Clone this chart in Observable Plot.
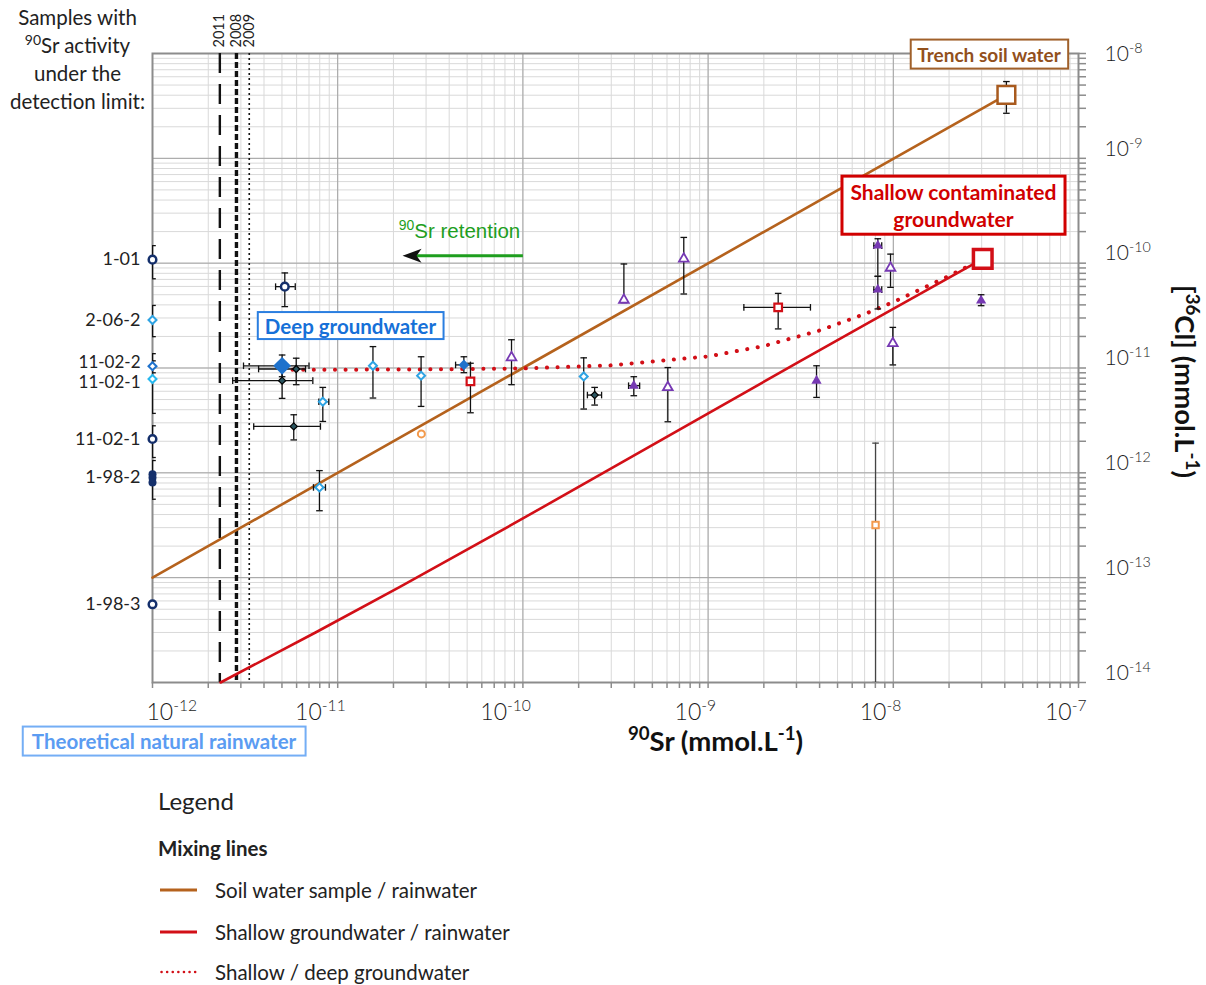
<!DOCTYPE html>
<html>
<head>
<meta charset="utf-8">
<script src="https://cdn.jsdelivr.net/npm/d3@7"></script>
<script src="https://cdn.jsdelivr.net/npm/@observablehq/plot@0.6"></script>
<style>
  body { margin: 0; background: #fff; font-family: Lato, "Noto Sans", sans-serif; color: #222; }
  #chart svg { display: block; }
  #legend { position: relative; width: 1206px; height: 205px; }
  #legend .item { position: absolute; left: 158px; transform: translateY(-50%); white-space: nowrap; }
  #legend .title { font-size: 24px; }
  #legend .group { font-size: 20.5px; font-weight: 700; }
  #legend .row { font-size: 20.5px; display: flex; align-items: center; }
  #legend .row svg { margin-right: 18px; margin-left: 2px; }
</style>
</head>
<body>
<div id="chart"></div>
<div id="legend">
  <div class="item title" style="top:20px">Legend</div>
  <div class="item group" style="top:68px">Mixing lines</div>
  <div class="item row" style="top:110px">
    <svg width="37" height="6"><line x1="0" x2="37" y1="3" y2="3" stroke="#b5621d" stroke-width="3"/></svg>Soil water sample / rainwater</div>
  <div class="item row" style="top:152px">
    <svg width="37" height="6"><line x1="0" x2="37" y1="3" y2="3" stroke="#d20f17" stroke-width="3"/></svg>Shallow groundwater / rainwater</div>
  <div class="item row" style="top:192px">
    <svg width="37" height="6"><line x1="1.5" x2="36" y1="3" y2="3" stroke="#d20f17" stroke-width="2.5" stroke-dasharray="0.1 5.5" stroke-linecap="round"/></svg>Shallow / deep groundwater</div>
</div>
<script>
// ---- Measured concentrations (mmol/L): 90Sr on x, 36Cl on y, with uncertainty ranges ----
const navyOpen = [
  {sr: 5.18e-12, cl: 5.97e-11, srLo: 4.62e-12, srHi: 5.90e-12, clLo: 3.85e-11, clHi: 8.07e-11}
];
const lightBlueOpen = [
  {sr: 8.31e-12, cl: 4.77e-12, srLo: 7.91e-12, srHi: 8.95e-12, clLo: 3.09e-12, clHi: 6.53e-12},
  {sr: 1.55e-11, cl: 1.05e-11, clLo: 5.17e-12, clHi: 1.60e-11},
  {sr: 7.97e-12, cl: 7.26e-13, srLo: 7.40e-12, srHi: 8.59e-12, clLo: 4.35e-13, clHi: 1.05e-12},
  {sr: 2.82e-11, cl: 8.45e-12, clLo: 4.30e-12, clHi: 1.28e-11},
  {sr: 2.13e-10, cl: 8.31e-12, clLo: 4.06e-12, clHi: 1.25e-11}
];
const deepGroundwater = [
  {sr: 5.01e-12, cl: 1.05e-11, srLo: 3.10e-12, srHi: 7.0e-12, clLo: 8.26e-12, clHi: 1.33e-11}
];
const blueFilled = [
  {sr: 4.80e-11, cl: 1.07e-11, srLo: 4.33e-11, srHi: 5.21e-11, clLo: 9.02e-12, clHi: 1.28e-11}
];
const darkPoints = [
  {sr: 5.97e-12, cl: 9.78e-12, srLo: 3.74e-12, srHi: 6.70e-12, clLo: 6.93e-12, clHi: 1.24e-11},
  {sr: 5.01e-12, cl: 7.57e-12, srLo: 2.71e-12, srHi: 7.34e-12, clLo: 5.13e-12, clHi: 1.05e-11},
  {sr: 5.79e-12, cl: 2.77e-12, srLo: 3.52e-12, srHi: 8.07e-12, clLo: 2.06e-12, clHi: 3.58e-12},
  {sr: 2.44e-10, cl: 5.52e-12, srLo: 2.23e-10, srHi: 2.66e-10, clLo: 4.43e-12, clHi: 6.53e-12}
];
const redOpen = [
  {sr: 5.21e-11, cl: 7.45e-12, clLo: 3.74e-12, clHi: 1.11e-11},
  {sr: 2.39e-9, cl: 3.79e-11, srLo: 1.56e-9, srHi: 3.57e-9, clLo: 2.36e-11, clHi: 5.15e-11}
];
const purpleOpen = [
  {sr: 8.68e-11, cl: 1.26e-11, clLo: 6.93e-12, clHi: 1.86e-11},
  {sr: 6.06e-10, cl: 6.53e-12, clLo: 3.07e-12, clHi: 1.01e-11},
  {sr: 3.51e-10, cl: 4.46e-11, clLo: 4.2e-11, clHi: 9.82e-11},
  {sr: 7.39e-10, cl: 1.10e-10, clLo: 5.08e-11, clHi: 1.76e-10},
  {sr: 9.66e-9, cl: 9.0e-11, clLo: 5.88e-11, clHi: 1.22e-10},
  {sr: 9.94e-9, cl: 1.72e-11, clLo: 1.07e-11, clHi: 2.44e-11}
];
const purpleFilled = [
  {sr: 3.97e-10, cl: 6.78e-12, srLo: 3.72e-10, srHi: 4.27e-10, clLo: 5.44e-12, clHi: 8.26e-12},
  {sr: 8.25e-9, cl: 1.47e-10, srLo: 7.85e-9, srHi: 8.66e-9, clLo: 7.5e-11, clHi: 1.71e-10},
  {sr: 8.25e-9, cl: 5.59e-11, srLo: 7.85e-9, srHi: 8.66e-9, clLo: 3.66e-11, clHi: 7.48e-11},
  {sr: 3.85e-9, cl: 7.57e-12, clLo: 5.24e-12, clHi: 1.05e-11},
  {sr: 2.98e-8, cl: 4.39e-11, clLo: 3.93e-11, clHi: 5.0e-11}
];
const orangeCircle = [{sr: 2.83e-11, cl: 2.35e-12}];
const orangeSquare = [{sr: 8.02e-9, cl: 3.18e-13, clLo: 1e-14, clHi: 1.92e-12}];
const shallowContaminated = [{sr: 3.04e-8, cl: 1.10e-10}];
const trenchSoilWater = [{sr: 4.08e-8, cl: 4.03e-9, clLo: 2.69e-9, clHi: 5.40e-9}];

// Samples whose 90Sr activity is below the detection limit (drawn on the left edge)
const belowDetection = [
  {label: "1-01",    group: "navyOpen",   sr: 1e-12, cl: 1.08e-10, clLo: 7.1e-11,  clHi: 1.47e-10},
  {label: "2-06-2",  group: "lightBlue",  sr: 1e-12, cl: 2.87e-11, clLo: 1.99e-11, clHi: 3.95e-11},
  {label: "11-02-2", group: "blue",       sr: 1e-12, cl: 1.04e-11, clLo: 9.0e-12,  clHi: 1.37e-11},
  {label: "11-02-1", group: "cyan",       sr: 1e-12, cl: 7.85e-12, clLo: 3.69e-12, clHi: 1.17e-11},
  {label: "11-02-1", group: "navyOpen",   sr: 1e-12, cl: 2.1e-12,  clLo: 1.40e-12, clHi: 2.81e-12},
  {label: "",        group: "navyFilled", sr: 1e-12, cl: 9.7e-13},
  {label: "1-98-2",  group: "navyFilled", sr: 1e-12, cl: 8.98e-13, clLo: 5.6e-13,  clHi: 1.31e-12},
  {label: "",        group: "navyFilled", sr: 1e-12, cl: 8.1e-13},
  {label: "1-98-3",  group: "navyOpen",   sr: 1e-12, cl: 5.57e-14}
];

// Mixing lines
const soilRainLine = [
  {sr: 1e-12, cl: 1e-13}, {sr: 1e-10, cl: 1e-11}, {sr: 4.08e-8, cl: 4.03e-9}
];
const shallowRainLine = [
  {sr: 2.33e-12, cl: 1e-14}, {sr: 7.59e-12, cl: 3.0e-14}, {sr: 2.18e-11, cl: 8.2e-14},
  {sr: 1.0e-10, cl: 3.67e-13}, {sr: 3.16e-9, cl: 1.17e-11}, {sr: 9.66e-9, cl: 3.54e-11},
  {sr: 3.04e-8, cl: 1.10e-10}
];
const shallowDeepLine = [
  {sr: 5.0e-12, cl: 9.6e-12}, {sr: 1e-11, cl: 9.63e-12}, {sr: 3e-11, cl: 9.7e-12},
  {sr: 1e-10, cl: 9.9e-12}, {sr: 3e-10, cl: 1.06e-11}, {sr: 1e-9, cl: 1.29e-11},
  {sr: 2e-9, cl: 1.62e-11}, {sr: 4e-9, cl: 2.28e-11}, {sr: 7e-9, cl: 3.27e-11},
  {sr: 1e-8, cl: 4.26e-11}, {sr: 1.5e-8, cl: 5.95e-11}, {sr: 2e-8, cl: 7.56e-11},
  {sr: 3.04e-8, cl: 1.10e-10}
];

// 90Sr detection limits by campaign year
const detectionLimits = [
  {year: "2011", sr: 2.31e-12},
  {year: "2008", sr: 2.84e-12},
  {year: "2009", sr: 3.33e-12}
];
const retentionArrow = [{srStart: 1.0e-10, srEnd: 2.6e-11, srTip: 2.24e-11, cl: 1.18e-10}];

// Axis ticks
const xTickValues = [1e-12, 1e-11, 1e-10, 1e-9, 1e-8, 1e-7];
const xTickLabels = ["10^{-12}", "10^{-11}", "10^{-10}", "10^{-9}", "10^{-8}", "10^{-7}"];
const yTickValues = [1e-14, 1e-13, 1e-12, 1e-11, 1e-10, 1e-9, 1e-8];
const yTickLabels = ["10^{-14}", "10^{-13}", "10^{-12}", "10^{-11}", "10^{-10}", "10^{-9}", "10^{-8}"];

// ---- styling ----
const NAVY = "#142f6b", LIGHT_BLUE = "#2ea3e3", CYAN = "#27b8ef", BLUE = "#1f72cc",
      PURPLE = "#7639b3", RED = "#d20f17", ORANGE = "#f39a4c", BROWN = "#b5621d",
      GREEN = "#1e9e1e", GRID_MINOR = "#d9d9d9", GRID_MAJOR = "#a3a3a3", AXIS = "#8c8c8c";

const xDomain = [1e-12, 1e-7], yDomain = [1e-14, 1e-8];
const xMinor = d3.scaleLog().domain(xDomain).ticks();
const yMinor = d3.scaleLog().domain(yDomain).ticks();
const xLabel = new Map(xTickValues.map((v, i) => [v, xTickLabels[i]]));
const yLabel = new Map(yTickValues.map((v, i) => [v, yTickLabels[i]]));

// custom symbols: error-bar caps and an arrow head
const hCap = {draw(ctx, size) { const r = Math.sqrt(size / Math.PI); ctx.moveTo(-r, 0); ctx.lineTo(r, 0); }};
const vCap = {draw(ctx, size) { const r = Math.sqrt(size / Math.PI); ctx.moveTo(0, -r); ctx.lineTo(0, r); }};
const arrowHead = {draw(ctx) { ctx.moveTo(0, 0); ctx.lineTo(19, -7); ctx.lineTo(14, 0); ctx.lineTo(19, 7); ctx.closePath(); }};

function errorBars(data, extra = {}) {
  const s = {stroke: "#111", strokeWidth: 1.3, ...extra};
  const ys = data.filter(d => d.clLo != null);
  const xs = data.filter(d => d.srLo != null);
  return [
    Plot.ruleX(ys, {x: "sr", y1: "clLo", y2: "clHi", ...s}),
    Plot.dot(ys, {x: "sr", y: "clLo", symbol: hCap, r: 3.3, fill: "none", ...s}),
    Plot.dot(ys, {x: "sr", y: "clHi", symbol: hCap, r: 3.3, fill: "none", ...s}),
    Plot.ruleY(xs, {y: "cl", x1: "srLo", x2: "srHi", ...s}),
    Plot.dot(xs, {x: "srLo", y: "cl", symbol: vCap, r: 3.3, fill: "none", ...s}),
    Plot.dot(xs, {x: "srHi", y: "cl", symbol: vCap, r: 3.3, fill: "none", ...s})
  ];
}

// free-standing annotation positioned from the frame's top-left corner
function note(text, dx, dy, opts = {}) {
  return Plot.text([text], {text: d => d, frameAnchor: "top-left", textAnchor: "middle",
    lineAnchor: "middle", dx, dy, ...opts});
}

const byGroup = g => belowDetection.filter(d => d.group === g);
const tickText = {fontSize: 23, fontWeight: 300, fill: "#1a1a1a", label: null};
const sampleLabel = {y: "cl", text: "label", frameAnchor: "left", textAnchor: "end",
  lineAnchor: "middle", dx: -12, fontSize: 18, fill: "#222"};

const plot = Plot.plot({
  width: 1206, height: 780,
  marginTop: 53, marginRight: 128, marginBottom: 98, marginLeft: 152,
  style: {fontFamily: "Lato, 'Noto Sans', sans-serif", color: "#222", background: "white", overflow: "visible"},
  x: {type: "log", domain: xDomain},
  y: {type: "log", domain: yDomain},
  marks: [
    // grid
    Plot.gridY(yMinor, {stroke: GRID_MINOR, strokeOpacity: 1}),
    Plot.gridX(xMinor, {stroke: GRID_MINOR, strokeOpacity: 1}),
    Plot.gridY(yTickValues, {stroke: GRID_MAJOR, strokeOpacity: 1}),
    Plot.gridX(xTickValues, {stroke: GRID_MAJOR, strokeOpacity: 1}),
    Plot.frame({stroke: AXIS, strokeWidth: 2}),
    Plot.axisX(xMinor, {anchor: "bottom", tickSize: 6, tickFormat: () => "", stroke: AXIS, strokeWidth: 1.5, label: null}),
    Plot.axisY(yMinor, {anchor: "right", tickSize: 7, tickFormat: () => "", stroke: AXIS, strokeWidth: 1.5, label: null}),

    // detection limits
    Plot.ruleX(detectionLimits.filter(d => d.year === "2011"), {x: "sr", stroke: "#111", strokeWidth: 2.4, strokeDasharray: "20 11"}),
    Plot.ruleX(detectionLimits.filter(d => d.year === "2008"), {x: "sr", stroke: "#111", strokeWidth: 3.4, strokeDasharray: "6 3"}),
    Plot.ruleX(detectionLimits.filter(d => d.year === "2009"), {x: "sr", stroke: "#111", strokeWidth: 1.6, strokeDasharray: "2 3"}),
    Plot.text(detectionLimits, {x: "sr", text: "year", frameAnchor: "top", rotate: -90, textAnchor: "start",
      lineAnchor: "middle", dy: -6, fontSize: 14.5, fill: "#222"}),

    // mixing lines
    Plot.line(soilRainLine, {x: "sr", y: "cl", stroke: BROWN, strokeWidth: 2.6}),
    Plot.line(shallowRainLine, {x: "sr", y: "cl", stroke: RED, strokeWidth: 2.6}),
    Plot.line(shallowDeepLine, {x: "sr", y: "cl", stroke: RED, strokeWidth: 4, strokeDasharray: "0.1 10.5", strokeLinecap: "round"}),

    // retention arrow
    Plot.link(retentionArrow, {x1: "srStart", x2: "srEnd", y1: "cl", y2: "cl", stroke: GREEN, strokeWidth: 3}),
    Plot.dot(retentionArrow, {x: "srTip", y: "cl", symbol: arrowHead, fill: "#111", stroke: "none"}),

    // uncertainties
    ...errorBars(belowDetection, {clip: true}),
    ...errorBars(navyOpen), ...errorBars(lightBlueOpen), ...errorBars(deepGroundwater),
    ...errorBars(blueFilled), ...errorBars(darkPoints), ...errorBars(redOpen),
    ...errorBars(purpleOpen), ...errorBars(purpleFilled),
    ...errorBars(orangeSquare, {stroke: "#444", clip: true}), ...errorBars(trenchSoilWater),

    // samples
    Plot.dot([...navyOpen, ...byGroup("navyOpen")], {x: "sr", y: "cl", r: 3.8, stroke: NAVY, strokeWidth: 2.5, fill: "white"}),
    Plot.dot(byGroup("navyFilled"), {x: "sr", y: "cl", r: 4, fill: NAVY}),
    Plot.dot([...lightBlueOpen, ...byGroup("lightBlue")], {x: "sr", y: "cl", symbol: "diamond2", r: 3.6, stroke: LIGHT_BLUE, strokeWidth: 2, fill: "white"}),
    Plot.dot(byGroup("cyan"), {x: "sr", y: "cl", symbol: "diamond2", r: 3.6, stroke: CYAN, strokeWidth: 2, fill: "white"}),
    Plot.dot(byGroup("blue"), {x: "sr", y: "cl", symbol: "diamond2", r: 3.6, stroke: BLUE, strokeWidth: 2, fill: "white"}),
    Plot.dot(darkPoints, {x: "sr", y: "cl", symbol: "diamond2", r: 3.2, fill: "#2a5560", stroke: "#000", strokeWidth: 1.2}),
    Plot.dot(blueFilled, {x: "sr", y: "cl", symbol: "diamond2", r: 4.8, fill: BLUE}),
    Plot.dot(deepGroundwater, {x: "sr", y: "cl", symbol: "diamond2", r: 8, fill: BLUE}),
    Plot.dot(redOpen, {x: "sr", y: "cl", symbol: "square", r: 4.3, stroke: RED, strokeWidth: 2.2, fill: "white"}),
    Plot.dot(purpleOpen, {x: "sr", y: "cl", symbol: "triangle", r: 3.6, stroke: PURPLE, strokeWidth: 1.8, fill: "white"}),
    Plot.dot(purpleFilled, {x: "sr", y: "cl", symbol: "triangle", r: 3.8, fill: PURPLE}),
    Plot.dot(orangeCircle, {x: "sr", y: "cl", r: 3.5, stroke: ORANGE, strokeWidth: 2, fill: "white"}),
    Plot.dot(orangeSquare, {x: "sr", y: "cl", symbol: "square", r: 3.6, stroke: ORANGE, strokeWidth: 2, fill: "white"}),
    Plot.dot(shallowContaminated, {x: "sr", y: "cl", symbol: "square", r: 10.5, stroke: RED, strokeWidth: 3.5, fill: "white"}),
    Plot.dot(trenchSoilWater, {x: "sr", y: "cl", symbol: "square", r: 10, stroke: "#a85a1e", strokeWidth: 2.5, fill: "white"}),

    // labels of samples under the detection limit (the two close 11-02 labels are nudged apart)
    Plot.text(belowDetection.filter(d => d.label && d.group !== "blue" && d.group !== "cyan"), sampleLabel),
    Plot.text(byGroup("blue"), {...sampleLabel, fontSize: 17, dy: -3.5}),
    Plot.text(byGroup("cyan"), {...sampleLabel, fontSize: 17, dy: 3.5}),
    note("Samples with\n^{90}Sr activity\nunder the\ndetection limit:", -75, 4.5, {fontSize: 20.5, lineHeight: 1.36, fill: "#222"}),

    // end-member annotations
    note("Trench soil water", 836.5, 2, {fontSize: 19, fontWeight: 700, fill: "#92501c"}),
    note("Shallow contaminated\ngroundwater", 801, 151.5, {fontSize: 21, fontWeight: 700, fill: "#d10000", lineHeight: 1.29}),
    note("Deep groundwater", 198, 273.5, {fontSize: 20.5, fontWeight: 700, fill: "#1670d8"}),
    note("Theoretical natural rainwater", 11.5, 689, {fontSize: 20.5, fontWeight: 700, fill: "#5b9cf2"}),
    note("^{90}Sr retention", 307, 178, {fontSize: 20.5, fill: GREEN, fontFamily: "'Liberation Sans', Arial, sans-serif"}),

    // axis titles
    note("^{90}Sr (mmol.L^{-1})", 563, 689, {fontSize: 27.5, fontWeight: 700, fill: "#111"}),
    note("[^{36}Cl] (mmol.L^{-1})", 1031, 328, {fontSize: 27.5, fontWeight: 700, fill: "#111", rotate: 90}),

    // tick labels
    Plot.axisX([xTickValues[0]], {anchor: "bottom", tickSize: 0, tickPadding: 21, textAnchor: "start", dx: -6, tickFormat: v => xLabel.get(v), ...tickText}),
    Plot.axisX(xTickValues.slice(1), {anchor: "bottom", tickSize: 0, tickPadding: 21, textAnchor: "end", dx: 8, tickFormat: v => xLabel.get(v), ...tickText}),
    Plot.axisY(yTickValues.slice(-1), {anchor: "right", tickSize: 0, tickPadding: 26, dy: 1, tickFormat: v => yLabel.get(v), ...tickText, fontSize: 21}),
    Plot.axisY(yTickValues.slice(0, -1), {anchor: "right", tickSize: 0, tickPadding: 26, dy: -9.5, tickFormat: v => yLabel.get(v), ...tickText, fontSize: 21})
  ]
});

document.getElementById("chart").append(plot);

// turn ^{...} runs into raised, smaller tspans
const NS = "http://www.w3.org/2000/svg";
function applySuperscripts(root) {
  root.querySelectorAll("text, tspan").forEach(el => {
    if (el.children.length) return;
    const s = el.textContent;
    if (!s.includes("^{")) return;
    el.textContent = "";
    const re = /\^\{([^}]*)\}/g;
    let last = 0, m;
    const add = (txt, sup) => {
      const t = document.createElementNS(NS, "tspan");
      t.textContent = txt;
      if (sup) { t.setAttribute("font-size", "68%"); t.setAttribute("baseline-shift", "0.58em"); }
      el.appendChild(t);
    };
    while ((m = re.exec(s))) {
      if (m.index > last) add(s.slice(last, m.index), false);
      add(m[1], true);
      last = re.lastIndex;
    }
    if (last < s.length) add(s.slice(last), false);
  });
}
applySuperscripts(plot);

// framed white boxes behind the end-member labels
function drawBox(prefix, stroke, width, padX, padY) {
  plot.querySelectorAll("text").forEach(t => {
    if (!t.textContent.startsWith(prefix)) return;
    const b = t.getBBox();
    const r = document.createElementNS(NS, "rect");
    r.setAttribute("x", b.x - padX);
    r.setAttribute("y", b.y - padY);
    r.setAttribute("width", b.width + 2 * padX);
    r.setAttribute("height", b.height + 2 * padY);
    r.setAttribute("fill", "white");
    r.setAttribute("stroke", stroke);
    r.setAttribute("stroke-width", width);
    const tr = t.getAttribute("transform");
    if (tr) r.setAttribute("transform", tr);
    t.parentNode.insertBefore(r, t);
  });
}
drawBox("Trench soil water", "#a0602a", 2, 6.5, 3);
drawBox("Shallow contaminated", "#d10000", 3, 8.5, 3);
drawBox("Deep groundwater", "#2a7ee0", 2, 7, 1.5);
drawBox("Theoretical natural rainwater", "#74aef5", 2, 9, 2.5);
</script>
</body>
</html>
